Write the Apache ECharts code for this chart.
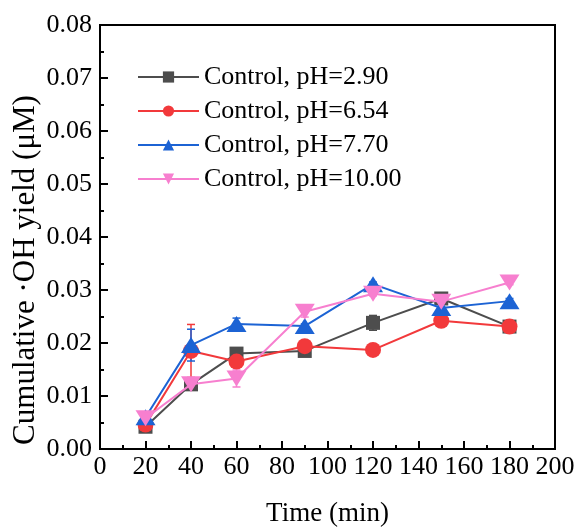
<!DOCTYPE html>
<html><head><meta charset="utf-8">
<script src="https://cdn.jsdelivr.net/npm/echarts@6/dist/echarts.min.js"></script>
<style>html,body{margin:0;padding:0;background:#fff}#c{width:581px;height:532px}</style>
</head><body><div id="c"></div>
<script>
const times = [20, 40, 60, 90, 120, 150, 180];
const names = ['Control, pH=2.90', 'Control, pH=6.54', 'Control, pH=7.70', 'Control, pH=10.00'];
const ph290 = [0.0042, 0.0122, 0.0180, 0.0185, 0.0238, 0.0284, 0.0231];
const ph654 = [0.0046, 0.0185, 0.0165, 0.0194, 0.0187, 0.0242, 0.0231];
const ph770 = [0.0060, 0.0196, 0.0236, 0.0232, 0.0311, 0.0266, 0.0279];
const ph1000 = [0.0058, 0.0122, 0.0133, 0.0259, 0.0293, 0.0278, 0.0314];
const err290 = [0.0005, 0.0006, 0.0005, 0.0004, 0.0014, 0.0010, 0.0010];
const err654 = [0.0005, 0.0050, 0.0008, 0.0003, 0.0003, 0.0004, 0.0008];
const err770 = [0.0005, 0.0030, 0.0011, 0.0004, 0.0004, 0.0008, 0.0005];
const err1000 = [0.0005, 0.0005, 0.0016, 0.0010, 0.0004, 0.0004, 0.0004];
const yTicks = ['0.00','0.01','0.02','0.03','0.04','0.05','0.06','0.07','0.08'];
const yTitle = 'Cumulative ·OH yield (μM)';
const xTitle = 'Time (min)';

const colors = ['#4d4d4d', '#f2393b', '#1c63d4', '#f77fcf'];
const symbols = ['rect', 'circle', 'triangle', 'path://M0,0 L2,0 L1,1.73 Z'];
const sizes = [14, 16, [20, 16], [20, 16]];
const vals = [ph290, ph654, ph770, ph1000];
const errs = [err290, err654, err770, err1000];
const font = 'Liberation Serif';

const series = [];
vals.forEach((v, i) => {
  series.push({
    type: 'custom', name: names[i] + '_err', silent: true, z: 1,
    data: times.map((t, k) => [t, v[k] - errs[i][k], v[k] + errs[i][k]]),
    renderItem: function (params, api) {
      const x = api.value(0);
      const lo = api.coord([x, api.value(1)]);
      const hi = api.coord([x, api.value(2)]);
      const w = 4;
      const st = { stroke: colors[i], lineWidth: 1.5 };
      return { type: 'group', children: [
        { type: 'line', shape: { x1: lo[0], y1: lo[1], x2: hi[0], y2: hi[1] }, style: st },
        { type: 'line', shape: { x1: lo[0] - w, y1: lo[1], x2: lo[0] + w, y2: lo[1] }, style: st },
        { type: 'line', shape: { x1: hi[0] - w, y1: hi[1], x2: hi[0] + w, y2: hi[1] }, style: st }
      ]};
    }
  });
  series.push({
    type: 'line', name: names[i], z: 2 + i,
    data: times.map((t, k) => [t, v[k]]),
    symbol: symbols[i], symbolSize: sizes[i],
    lineStyle: { color: colors[i], width: 2 },
    itemStyle: { color: colors[i], opacity: 1 },
    showSymbol: true
  });
});

const chart = echarts.init(document.getElementById('c'));
chart.setOption({
  animation: false,
  textStyle: { fontFamily: font },
  grid: { left: 100, right: 26, top: 25, bottom: 82, show: true, borderColor: '#000', borderWidth: 2 },
  legend: {
    data: names, orient: 'vertical', left: 132, top: 59,
    itemWidth: 61, itemHeight: 14, itemGap: 8,
    textStyle: { fontFamily: font, fontSize: 26, lineHeight: 26, color: '#000' }
  },
  graphic: [{
    type: 'text', x: 26, y: 270, rotation: Math.PI / 2,
    style: { text: yTitle, fontFamily: font, fontSize: 31, fill: '#000', align: 'center', verticalAlign: 'middle' }
  }],
  xAxis: {
    type: 'value', min: 0, max: 200, interval: 20,
    name: xTitle, nameLocation: 'middle', nameGap: 51,
    nameTextStyle: { fontFamily: font, fontSize: 27, color: '#000' },
    axisLine: { show: true, lineStyle: { color: '#000', width: 2 } },
    axisTick: { show: true, inside: true, length: 8, lineStyle: { color: '#000', width: 2 } },
    minorTick: { show: true, splitNumber: 2, length: 4, lineStyle: { color: '#000', width: 2 } },
    axisLabel: { fontFamily: font, fontSize: 26, color: '#000', margin: 5 },
    splitLine: { show: false }
  },
  yAxis: {
    type: 'value', min: 0, max: 0.08, interval: 0.01,
    axisLine: { show: true, lineStyle: { color: '#000', width: 2 } },
    axisTick: { show: true, inside: true, length: 8, lineStyle: { color: '#000', width: 2 } },
    minorTick: { show: true, splitNumber: 2, length: 4, lineStyle: { color: '#000', width: 2 } },
    axisLabel: { fontFamily: font, fontSize: 26, color: '#000', margin: 8,
      formatter: (v) => yTicks[Math.round(v * 100)] },
    splitLine: { show: false }
  },
  series: series
});
</script></body></html>
